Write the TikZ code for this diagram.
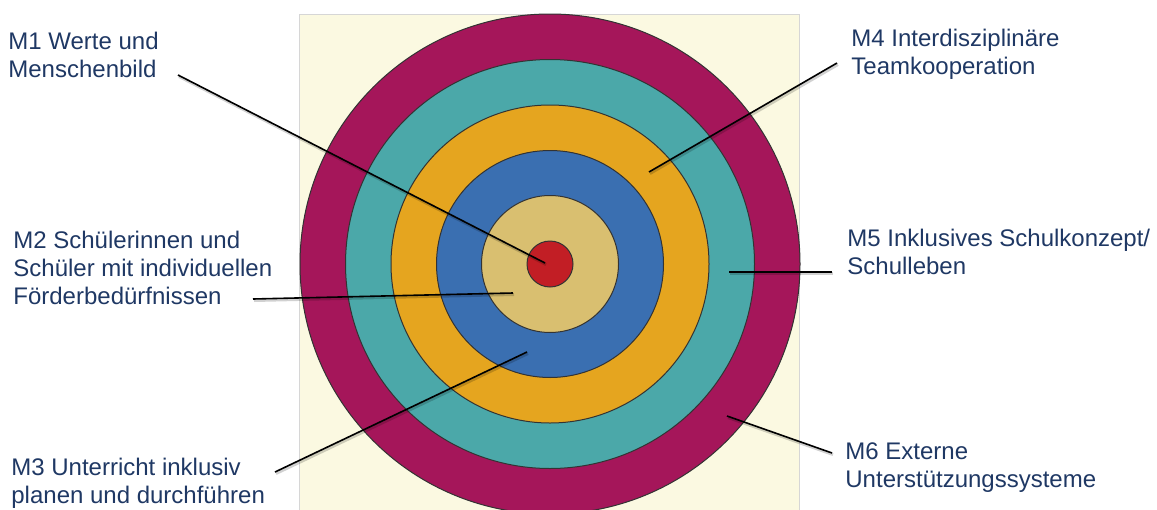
\documentclass[tikz,border=0pt]{standalone}
\usepackage{fontspec}
\setmainfont{Liberation Sans}

\definecolor{cream}{HTML}{FBF9E1}
\definecolor{framegray}{HTML}{D6D6D6}
\definecolor{ringmagenta}{HTML}{A5165A}
\definecolor{ringteal}{HTML}{4BA8A9}
\definecolor{ringorange}{HTML}{E5A51F}
\definecolor{ringblue}{HTML}{3A6FB1}
\definecolor{ringbeige}{HTML}{D9BF70}
\definecolor{ringred}{HTML}{C21E25}
\definecolor{navy}{HTML}{1F3864}

\tikzset{
  ring/.style={circle, draw=black!80, line width=0.5pt, inner sep=0pt},
  lbl/.style={anchor=base west, align=left, inner sep=0pt, text=navy,
              font=\fontsize{12}{14}\selectfont},
  leader/.style={line width=0.8pt, black,
                 preaction={draw=black, draw opacity=0.18, line width=1.4pt,
                            transform canvas={shift={(0.5pt,-0.8pt)}}}}
}

\begin{document}
\begin{tikzpicture}[x=0.5pt,y=-0.5pt]
                        \path[use as bounding box, clip] (0,0) rectangle (1157,509);
                        \fill[cream, draw=framegray, line width=0.5pt] (299,14) rectangle (799,540);

                        % Rings
                        \node[ring, fill=ringmagenta, minimum size=250pt] (m6) at (550,264) {};
                        \node[ring, fill=ringteal, minimum size=204.5pt] (m5) at (550,264) {};
                        \node[ring, fill=ringorange, minimum size=159pt] (m4) at (550,264) {};
                        \node[ring, fill=ringblue, minimum size=113.5pt] (m3) at (550,264) {};
                        \node[ring, fill=ringbeige, minimum size=68.5pt] (m2) at (550,264) {};
                        \node[ring, fill=ringred, minimum size=23pt] (m1) at (550,264) {};

                        % Labels (anchored on the baseline of the last line)
                        \node[lbl] (txt1) at (8,77) {M1 Werte und\\Menschenbild};
                        \node[lbl] (txt2) at (13,304) {M2 Schülerinnen und\\Schüler mit individuellen\\Förderbedürfnissen};
                        \node[lbl] (txt3) at (11,503) {M3 Unterricht inklusiv\\planen und durchführen};
                        \node[lbl] (txt4) at (851,74) {M4 Interdisziplinäre\\Teamkooperation};
                        \node[lbl] (txt5) at (847,274) {M5 Inklusives Schulkonzept/\\Schulleben};
                        \node[lbl] (txt6) at (845,487) {M6 Externe\\Unterstützungssysteme};

                        % Leader ends
                        \coordinate (q1) at (178,75);
                        \coordinate (p1) at (545,263);
                        \coordinate (q2) at (253,299);
                        \coordinate (p2) at (513,293);
                        \coordinate (q3) at (275,472);
                        \coordinate (p3) at (527,352);
                        \coordinate (q4) at (837,63);
                        \coordinate (p4) at (649,172);
                        \coordinate (q5) at (832,272);
                        \coordinate (p5) at (729,272);
                        \coordinate (q6) at (832,453);
                        \coordinate (p6) at (727,416);

                        % Leaders
                        \draw[leader] (q1) -- (p1);
                        \draw[leader] (q2) -- (p2);
                        \draw[leader] (q3) -- (p3);
                        \draw[leader] (q4) -- (p4);
                        \draw[leader] (q5) -- (p5);
                        \draw[leader] (q6) -- (p6);
                    \end{tikzpicture}
\end{document}
